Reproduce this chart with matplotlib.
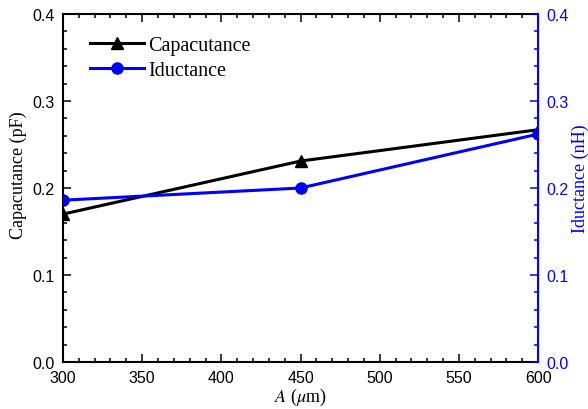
import matplotlib
matplotlib.use("Agg")
import matplotlib.pyplot as plt
from matplotlib.ticker import MultipleLocator

# data
area = [300, 450, 600]
capacitance = [0.170, 0.231, 0.267]
inductance = [0.186, 0.200, 0.262]
x_ticks = [300, 350, 400, 450, 500, 550, 600]
y_ticks = [0.0, 0.1, 0.2, 0.3, 0.4]

plt.rcParams['mathtext.fontset'] = 'stix'
serif = 'Liberation Serif'
sans = 'Liberation Sans'

fig = plt.figure(figsize=(5.88, 4.10), dpi=100)
ax = fig.add_axes([0.1071, 0.1146, 0.808, 0.8488])
ax2 = ax.twinx()

l1, = ax.plot(area, capacitance, color='black', lw=2.2, marker='^', ms=8,
              label='Capacutance', zorder=3, clip_on=True)
l2, = ax2.plot(area, inductance, color='blue', lw=2.2, marker='o', ms=8,
               label='Iductance', zorder=3, clip_on=True)

ax.set_xlim(300, 600)
ax.set_ylim(0, 0.4)
ax2.set_ylim(0, 0.4)
ax.set_xticks(x_ticks)
ax.set_yticks(y_ticks)
ax2.set_yticks(y_ticks)
ax.xaxis.set_minor_locator(MultipleLocator(10))
ax.yaxis.set_minor_locator(MultipleLocator(0.02))
ax2.yaxis.set_minor_locator(MultipleLocator(0.02))

ax.tick_params(which='both', direction='in', top=True, right=False, width=1.1)
ax.tick_params(which='major', length=6)
ax.tick_params(which='minor', length=3)
ax.tick_params(axis='x', which='major', pad=6)
ax.tick_params(axis='y', which='major', pad=6)
ax2.tick_params(which='both', direction='in', colors='blue', width=1.1)
ax2.tick_params(which='major', length=6, pad=6)
ax2.tick_params(which='minor', length=3)

ax.set_xticklabels([str(v) for v in x_ticks], family=sans, fontsize=11.5)
ax.set_yticklabels(['%.1f' % v for v in y_ticks], family=sans, fontsize=11.5)
ax2.set_yticklabels(['%.1f' % v for v in y_ticks], family=sans, fontsize=11.5, color='blue')

for side in ['left', 'top', 'bottom']:
    ax.spines[side].set_linewidth(1.5)
ax2.spines['right'].set_color('blue')
ax2.spines['right'].set_linewidth(1.5)
for side in ['left', 'top', 'bottom']:
    ax2.spines[side].set_visible(False)

ax.set_xlabel(r'$A$ ($\mu$m)', family=serif, fontsize=13, labelpad=0.5)
ax.set_ylabel('Capacutance (pF)', family=serif, fontsize=13)
ax.yaxis.set_label_coords(-0.0758, 0.54)
ax2.set_ylabel('Iductance (nH)', family=serif, fontsize=13, color='blue')
ax2.yaxis.set_label_coords(1.0716, 0.53)

leg = ax.legend([l1, l2], ['Capacutance', 'Iductance'], loc='upper left',
                bbox_to_anchor=(0.057, 0.937), frameon=False, borderpad=0,
                borderaxespad=0, handlelength=2.7, handletextpad=0.2,
                labelspacing=0.3, prop={'family': serif, 'size': 14.5})

fig.savefig('out.png', dpi=100)
